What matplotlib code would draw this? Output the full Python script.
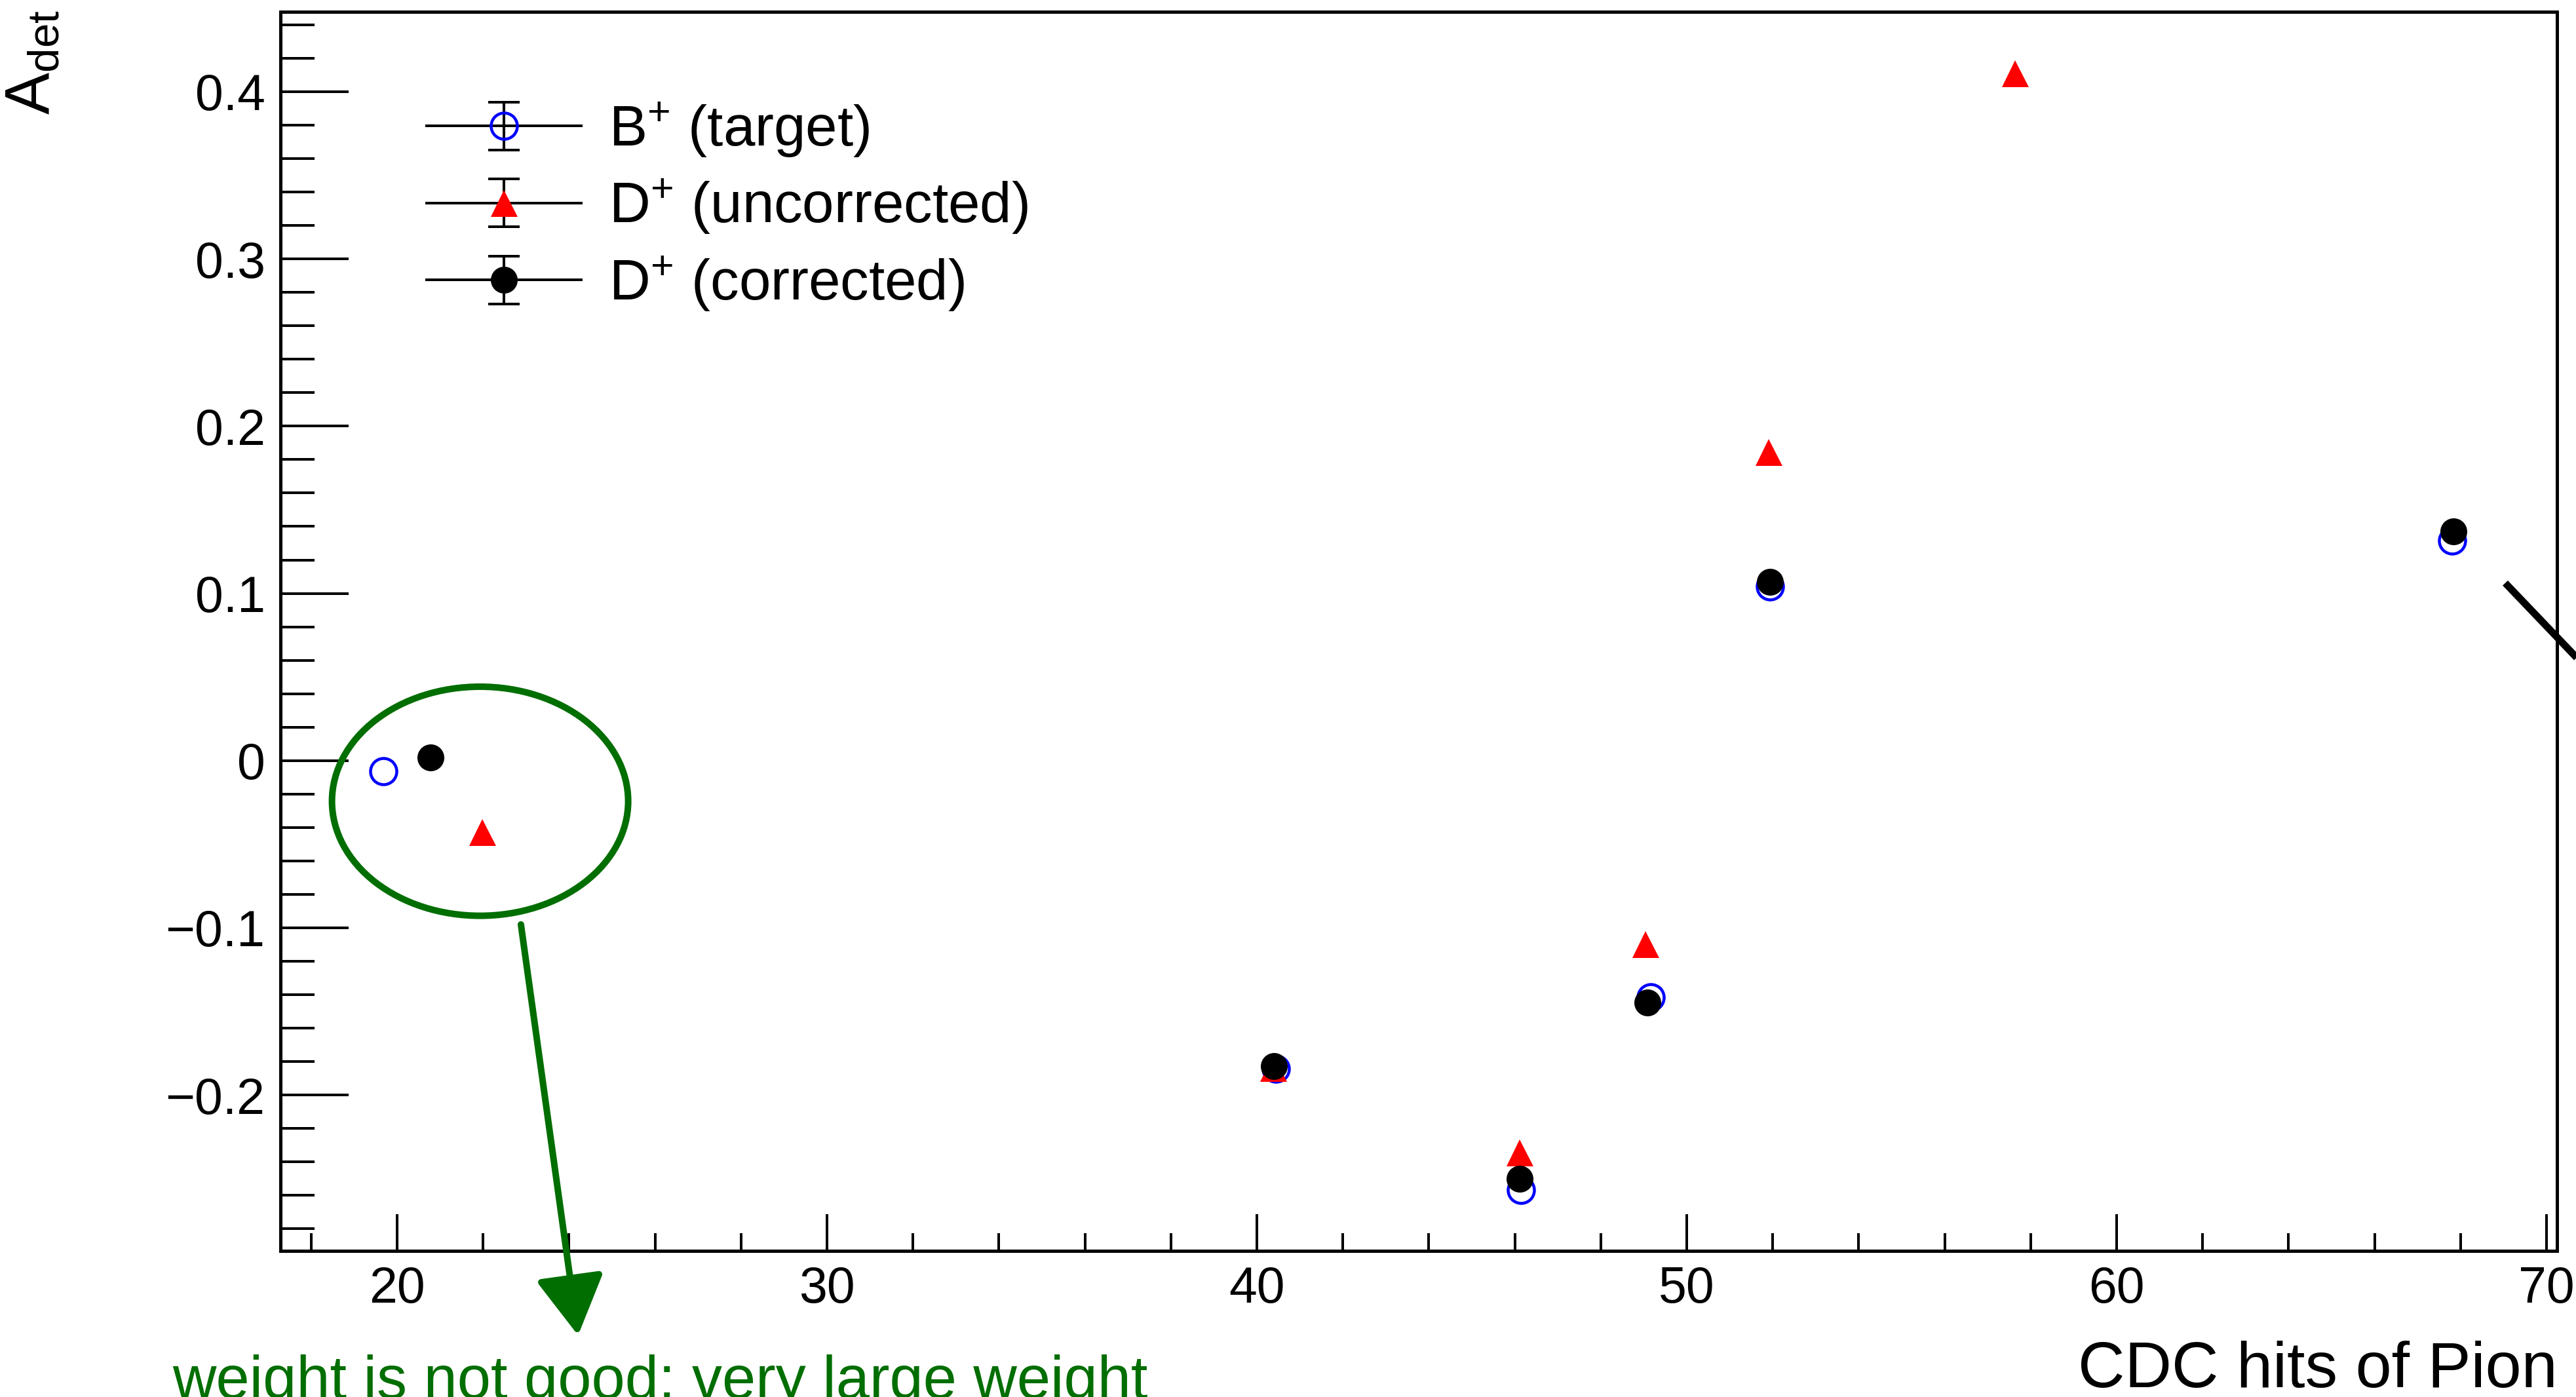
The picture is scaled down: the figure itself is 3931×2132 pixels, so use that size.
import numpy as np
import matplotlib
matplotlib.use("Agg")
import matplotlib.pyplot as plt
from matplotlib.patches import Ellipse
from matplotlib.container import ErrorbarContainer
from matplotlib.legend_handler import HandlerErrorbar
from matplotlib.ticker import MultipleLocator, FixedLocator, FuncFormatter

plt.rcParams['font.family'] = ['Liberation Sans', 'DejaVu Sans']
plt.rcParams['mathtext.fontset'] = 'custom'
plt.rcParams['mathtext.rm'] = 'Liberation Sans'
plt.rcParams['mathtext.it'] = 'Liberation Sans:italic'
plt.rcParams['mathtext.bf'] = 'Liberation Sans:bold'
plt.rcParams['mathtext.default'] = 'regular'

# ---------------- data ----------------
cdc_B = [19.68, 40.44, 46.14, 49.16, 51.94, 67.81]
adet_B = [-0.0064, -0.1844, -0.2569, -0.1416, 0.1042, 0.1317]

cdc_Dunc = [21.98, 40.38, 46.12, 49.04, 51.90, 57.63]
adet_Dunc = [-0.0427, -0.1840, -0.2346, -0.1100, 0.1844, 0.4110]

cdc_Dcor = [20.77, 40.40, 46.12, 49.08, 51.93, 67.84]
adet_Dcor = [0.0020, -0.1827, -0.2501, -0.1445, 0.1069, 0.1371]

labels = ["B$^{+}$ (target)", "D$^{+}$ (uncorrected)", "D$^{+}$ (corrected)"]
x_ticks = [20, 30, 40, 50, 60, 70]
y_ticks = [-0.2, -0.1, 0.0, 0.1, 0.2, 0.3, 0.4]
x_title = "CDC hits of Pion"
y_title = "A$_{\\mathrm{det}}$"
note_text = "weight is not good: very large weight"

# annotation geometry (hand-drawn marks on the original)
circle_center = (21.93, -0.0243)
circle_size = (6.89, 0.137)
arrow_start = (22.88, -0.098)
arrow_end = (24.21, -0.3437)
stroke_x = [69.04, 71.0]
stroke_y = [0.1062, 0.0535]

# ---------------- figure ----------------
W, H = 3931, 2132
DPI = 100
px = 72.0 / DPI
fig = plt.figure(figsize=(W / DPI, H / DPI), dpi=DPI)
fig.patch.set_facecolor('white')

L, R, B, T = 427.5, 3902, 1909, 17.5
ax = fig.add_axes([L / W, 1 - B / H, (R - L) / W, (B - T) / H])
ax.set_xlim(17.279, 70.244)
ax.set_ylim(-0.2932, 0.448)

for s in ax.spines.values():
    s.set_linewidth(5 * px)

ax.xaxis.set_major_locator(FixedLocator(x_ticks))
ax.xaxis.set_minor_locator(MultipleLocator(2))
ax.yaxis.set_major_locator(FixedLocator(y_ticks))
ax.yaxis.set_minor_locator(MultipleLocator(0.02))

def yfmt(v, pos):
    if abs(v) < 1e-9:
        return "0"
    return f"{v:.1f}".replace("-", "\u2212")

ax.yaxis.set_major_formatter(FuncFormatter(yfmt))
ax.xaxis.set_major_formatter(FuncFormatter(lambda v, p: f"{v:.0f}"))

ax.tick_params(axis='both', which='both', direction='in', top=False, right=False,
               width=4 * px, colors='k', labelsize=77 * px)
ax.tick_params(axis='x', which='major', length=56 * px, pad=16)
ax.tick_params(axis='x', which='minor', length=27 * px)
ax.tick_params(axis='y', which='major', length=104 * px, pad=16.5)
ax.tick_params(axis='y', which='minor', length=52 * px)

# styles
blue_style = dict(marker='o', ms=40 * px, mfc='none', mec='#0000ff', mew=4.5 * px)
red_style = dict(marker='^', ms=41 * px, mfc='#ff0000', mec='#ff0000', mew=0)
black_style = dict(marker='o', ms=41 * px, mfc='k', mec='k', mew=0)

ax.plot(cdc_B, adet_B, ls='none', zorder=3, **blue_style)
ax.plot(cdc_Dunc, adet_Dunc, ls='none', zorder=4, **red_style)
ax.plot(cdc_Dcor, adet_Dcor, ls='none', zorder=5, **black_style)

# legend proxies (line + marker + error bar with caps, ROOT "LEP" style)
proxies = []
for st in (blue_style, red_style, black_style):
    c = ax.errorbar([np.nan], [np.nan], yerr=[0.01], ls='-', color='k', lw=4 * px,
                    ecolor='k', elinewidth=4 * px, capsize=48 * px / 2, capthick=4 * px, **st)
    for cap in c[1]:
        cap.set_markeredgewidth(4 * px)
        cap.set_markersize(48 * px)
    proxies.append(c)

leg = ax.legend(proxies, labels, loc='upper left',
                bbox_to_anchor=(651 / W, 1 - 153 / H), bbox_transform=fig.transFigure,
                frameon=False, fontsize=87 * px, handlelength=2.71, handletextpad=0.48,
                borderpad=0, borderaxespad=0, labelspacing=0.317,
                handler_map={ErrorbarContainer: HandlerErrorbar(xerr_size=0.42)})

# axis titles
fig.text(3903 / W, 1 - 2117 / H, x_title, ha='right', va='baseline', fontsize=99 * px)
fig.text(5 / W, 1 - 15 / H, y_title, ha='left', va='top', rotation=90, fontsize=96 * px)

# annotations
green = '#006e00'
ax.add_patch(Ellipse(circle_center, circle_size[0], circle_size[1], fill=False,
                     ec=green, lw=10 * px, clip_on=False, zorder=6))
ax.annotate('', xy=arrow_end, xytext=arrow_start, annotation_clip=False,
            arrowprops=dict(arrowstyle='-|>,head_length=56,head_width=32', color=green,
                            lw=10 * px, shrinkA=0, shrinkB=0, mutation_scale=1))
ax.plot(stroke_x, stroke_y, color='k', lw=11 * px, clip_on=False, solid_capstyle='butt', zorder=6)
fig.text(263 / W, 1 - 2134 / H, note_text, ha='left', va='baseline', fontsize=92 * px, color=green)

fig.savefig('out.png', dpi=DPI)
